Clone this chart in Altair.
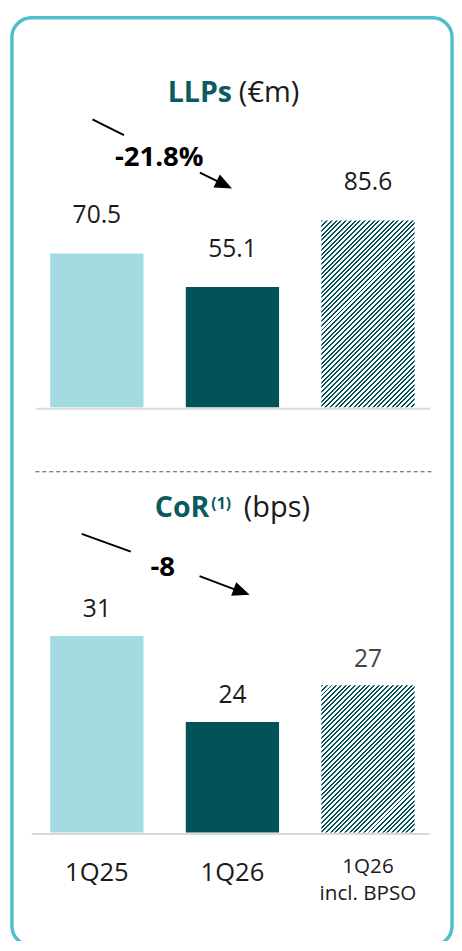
import altair as alt
import pandas as pd

# ---------------- data ----------------
categories = ["1Q25", "1Q26", "1Q26 incl. BPSO"]
x_labels = ["1Q25", "1Q26", "1Q26\nincl. BPSO"]
llp_values = [70.5, 55.1, 85.6]
llp_labels = ["70.5", "55.1", "85.6"]
cor_values = [31, 24, 27]
cor_labels = ["31", "24", "27"]
llp_change = "-21.8%"
cor_change = "-8"

# ---------------- style ----------------
LIGHT = "#A2DCE2"
DARK = "#02525A"
TEAL_TXT = "#0B5A60"
BORDER = "#4DBECA"
TXT = "#1A1A1A"
FONT = "Open Sans"
W, H = 454, 933

P_IN = 0.312
X_RANGE = [43, 413.9]
step = (X_RANGE[1] - X_RANGE[0]) / (3 - P_IN)
bw = step * (1 - P_IN)

TOP_DOMAIN, TOP_RANGE = [0, 100], [398, 176]
BOT_DOMAIN, BOT_RANGE = [15, 35], [831, 581]


def hatch(value, domain, rng, period=4.8, frac=0.42):
    k = (rng[0] - rng[1]) / (domain[1] - domain[0])
    h = (value - domain[0]) * k
    w = bw
    s = (w + h) / (w * w + h * h)
    n = int(round((w + h) / period))
    stops = []
    for i in range(n):
        a = i / n
        b = (i + frac) / n
        c = (i + 1) / n
        stops += [alt.GradientStop(offset=round(a, 5), color=DARK),
                  alt.GradientStop(offset=round(b, 5), color=DARK),
                  alt.GradientStop(offset=round(b, 5), color="white"),
                  alt.GradientStop(offset=round(c, 5), color="white")]
    return alt.Gradient(gradient="linear", stops=stops, x1=0, y1=0,
                        x2=round(w * s, 5), y2=round(h * s, 5))


df = pd.DataFrame({
    "cat": categories, "xlbl": x_labels,
    "llp": llp_values, "llp_lbl": llp_labels,
    "cor": cor_values, "cor_lbl": cor_labels,
})
one = pd.DataFrame({"z": [0]})

X = alt.X("cat:N", scale=alt.Scale(domain=categories, range=X_RANGE, paddingInner=P_IN, paddingOuter=0),
          axis=None)
Y_TOP = alt.Y("llp:Q", scale=alt.Scale(domain=TOP_DOMAIN, range=TOP_RANGE, zero=False), axis=None)
Y_BOT = alt.Y("cor:Q", scale=alt.Scale(domain=BOT_DOMAIN, range=BOT_RANGE, zero=False), axis=None)
COLOR = alt.Color("cat:N", scale=alt.Scale(domain=categories[:2], range=[LIGHT, DARK]), legend=None)

solid = alt.FieldOneOfPredicate(field="cat", oneOf=categories[:2])
hatched = alt.FieldEqualPredicate(field="cat", equal=categories[2])

base = alt.Chart(df)

top_solid = base.transform_filter(solid).mark_bar().encode(x=X, y=Y_TOP, y2=alt.Y2Datum(0), color=COLOR)
top_hatch = base.transform_filter(hatched).mark_bar(
    color=hatch(llp_values[2], TOP_DOMAIN, TOP_RANGE)).encode(x=X, y=Y_TOP, y2=alt.Y2Datum(0))
top_lbl = base.mark_text(font=FONT, fontSize=25, baseline="alphabetic", dy=-31, color=TXT).encode(
    x=X, y=Y_TOP, text="llp_lbl:N")

bot_solid = base.transform_filter(solid).mark_bar().encode(x=X, y=Y_BOT, y2=alt.Y2Datum(15), color=COLOR)
bot_hatch = base.transform_filter(hatched).mark_bar(
    color=hatch(cor_values[2], BOT_DOMAIN, BOT_RANGE)).encode(x=X, y=Y_BOT, y2=alt.Y2Datum(15))
bot_lbl = base.mark_text(font=FONT, fontSize=25, baseline="alphabetic", dy=-19).encode(
    x=X, y=Y_BOT, text="cor_lbl:N",
    color=alt.condition(alt.datum.cat == categories[2], alt.value("#444444"), alt.value(TXT)))

x_main = base.transform_filter(solid).mark_text(
    font=FONT, fontSize=26, baseline="alphabetic", color=TXT).encode(x=X, y=alt.value(880), text="xlbl:N")
x_third = base.transform_filter(hatched).mark_text(
    font=FONT, fontSize=21, baseline="alphabetic", color=TXT, lineBreak="\n", lineHeight=28).encode(
    x=X, y=alt.value(872), text="xlbl:N")


def rule(x1, y1, x2, y2, **kw):
    return alt.Chart(one).mark_rule(**kw).encode(
        x=alt.value(x1), x2=alt.value(x2), y=alt.value(y1), y2=alt.value(y2))


def label(text, x, y, **kw):
    return alt.Chart(one).mark_text(text=text, font=FONT, baseline="alphabetic", **kw).encode(
        x=alt.value(x), y=alt.value(y))


def head(x, y, ang):
    return alt.Chart(one).mark_point(shape="M0,0L-2,-0.85L-2,0.85Z", filled=True, size=300,
                                     angle=ang, color="black", opacity=1, strokeWidth=0).encode(
        x=alt.value(x), y=alt.value(y))


border = alt.Chart(one).mark_rect(cornerRadius=20, fillOpacity=0, stroke=BORDER, strokeWidth=3.5).encode(
    x=alt.value(4), x2=alt.value(452), y=alt.value(1.5), y2=alt.value(946))

base_top = rule(29, 399.5, 430, 399.5, color="#D9D9D9", strokeWidth=2)
base_bot = rule(24, 832.5, 429, 832.5, color="#D9D9D9", strokeWidth=2)
sep = rule(28, 463.7, 432, 463.7, color="#555555", strokeWidth=1.2, strokeDash=[4, 3])

t1a = label("LLPs", 228, 87, fontSize=29, fontWeight="bold", color=TEAL_TXT, align="right")
t1b = label("(€m)", 235, 87, fontSize=29.5, color=TXT, align="left")
t2a = label("CoR", 205, 510, fontSize=29, fontWeight="bold", color=TEAL_TXT, align="right")
t2s = label("(1)", 207, 502, fontSize=16, fontWeight="bold", color=TEAL_TXT, align="left")
t2b = label("(bps)", 240, 510, fontSize=29.5, color=TXT, align="left")

c1 = label(llp_change, 154, 152, fontSize=28, fontWeight="bold", color="black", align="center")
c2 = label(cor_change, 157.5, 570, fontSize=28, fontWeight="bold", color="black", align="center")

a1 = rule(86, 105, 118, 121, color="black", strokeWidth=2)
a2 = rule(195.3, 159.3, 215, 168.8, color="black", strokeWidth=2)
h1 = head(228, 175.3, 25.9)
a3 = rule(75, 527, 125, 545, color="black", strokeWidth=2)
a4 = rule(195, 570, 232, 584, color="black", strokeWidth=2)
h2 = head(246, 589, 20.4)

chart = alt.layer(
    border, base_top, base_bot,
    top_solid, top_hatch, top_lbl,
    bot_solid, bot_hatch, bot_lbl,
    x_main, x_third, sep,
    t1a, t1b, t2a, t2s, t2b, c1, c2,
    a1, a2, h1, a3, a4, h2,
).resolve_scale(y="independent").properties(
    width=W, height=H, padding=0, autosize=alt.AutoSizeParams(type="none"),
    background="white",
).configure_view(strokeWidth=0)

chart.save("out.html", embed_options={"renderer": "svg", "actions": False})
